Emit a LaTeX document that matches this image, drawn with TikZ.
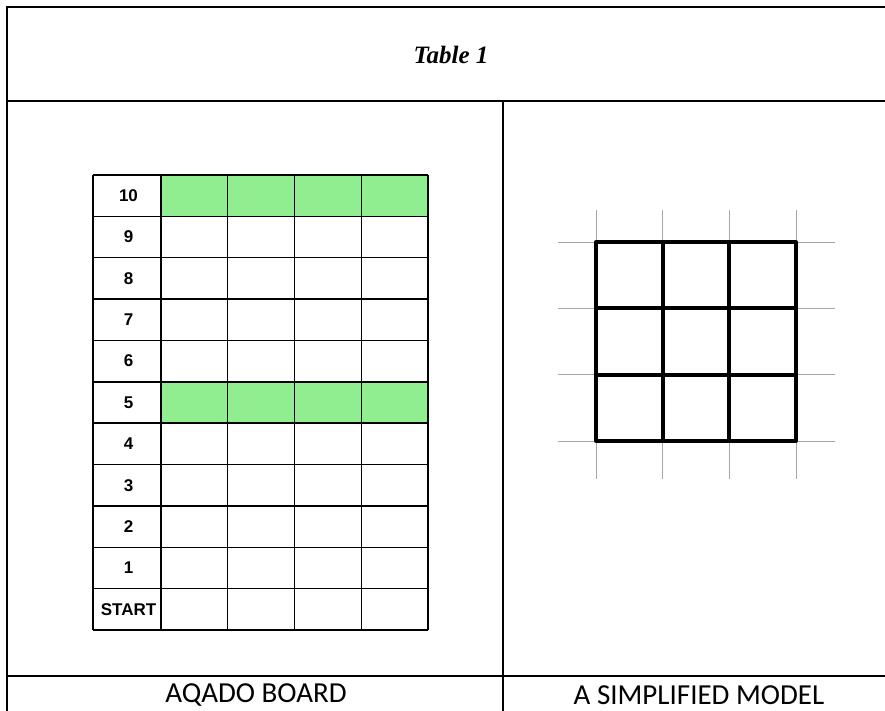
\documentclass[tikz,border=0pt]{standalone}
\usepackage{fontspec}
\setmainfont{Liberation Serif}
\newfontfamily\capfont{Carlito}
\newfontfamily\labfont{Liberation Sans}
\definecolor{boardgreen}{HTML}{90EE90}
\tikzset{
  frame/.style = {line width=2pt, black},
  cellline/.style = {line width=1.4pt, black},
  thinline/.style = {line width=1pt, black!35},
  thickline/.style = {line width=4pt, black, line cap=round, line join=round},
  rowlabel/.style = {font=\labfont\bfseries\fontsize{17}{17}\selectfont, inner sep=0pt},
  caption/.style = {font=\capfont\fontsize{29}{29}\selectfont, inner sep=0pt}
}
\begin{document}
\begin{tikzpicture}[x=1pt, y=-1pt]
\useasboundingbox (0,0) rectangle (885,710);
% outer table
\coordinate (tl) at (7,7);
\coordinate (tr) at (895,7);
\coordinate (ml) at (7,101);
\coordinate (mr) at (895,101);
\coordinate (bl) at (7,676);
\coordinate (br) at (895,676);
\coordinate (dtop) at (503,101);
\coordinate (dbot) at (503,720);
\draw[frame] (tr) -- (tl) -- (7,720);
\draw[frame] (ml) -- (mr);
\draw[frame] (bl) -- (br);
\draw[frame] (dtop) -- (dbot);
\node[font=\bfseries\itshape\fontsize{25}{25}\selectfont] (title) at (451,55) {Table 1};
\node[caption] (capboard) at (256,695) {AQADO BOARD};
\node[caption] (capmodel) at (699,695) {A SIMPLIFIED MODEL};
% board
\fill[boardgreen] (161,175) rectangle (428,216.4);
\fill[boardgreen] (161,381.8) rectangle (428,423.2);
\foreach \lab [count=\i from 0] in {10,9,8,7,6,5,4,3,2,1,START}
  \node[rowlabel] (lab-\i) at (128.5,{175+41.36*(\i+0.5)}) {\lab};
\foreach \i in {0,...,11}
  \draw[cellline] (93,{175+41.36*\i}) -- (428,{175+41.36*\i});
\foreach \x in {93,161,227.75,294.5,361.25,428}
  \draw[cellline] (\x,175) -- (\x,630);
% simplified model
\foreach \x in {596,662.7,729.3,796}
  \draw[thinline] (\x,210) -- (\x,479);
\foreach \y in {242,308.3,374.7,441}
  \draw[thinline] (558,\y) -- (835,\y);
\draw[thickline] (596,242) rectangle (796,441);
\foreach \x in {662.7,729.3}
  \draw[thickline] (\x,242) -- (\x,441);
\foreach \y in {308.3,374.7}
  \draw[thickline] (596,\y) -- (796,\y);
\end{tikzpicture}
\end{document}
